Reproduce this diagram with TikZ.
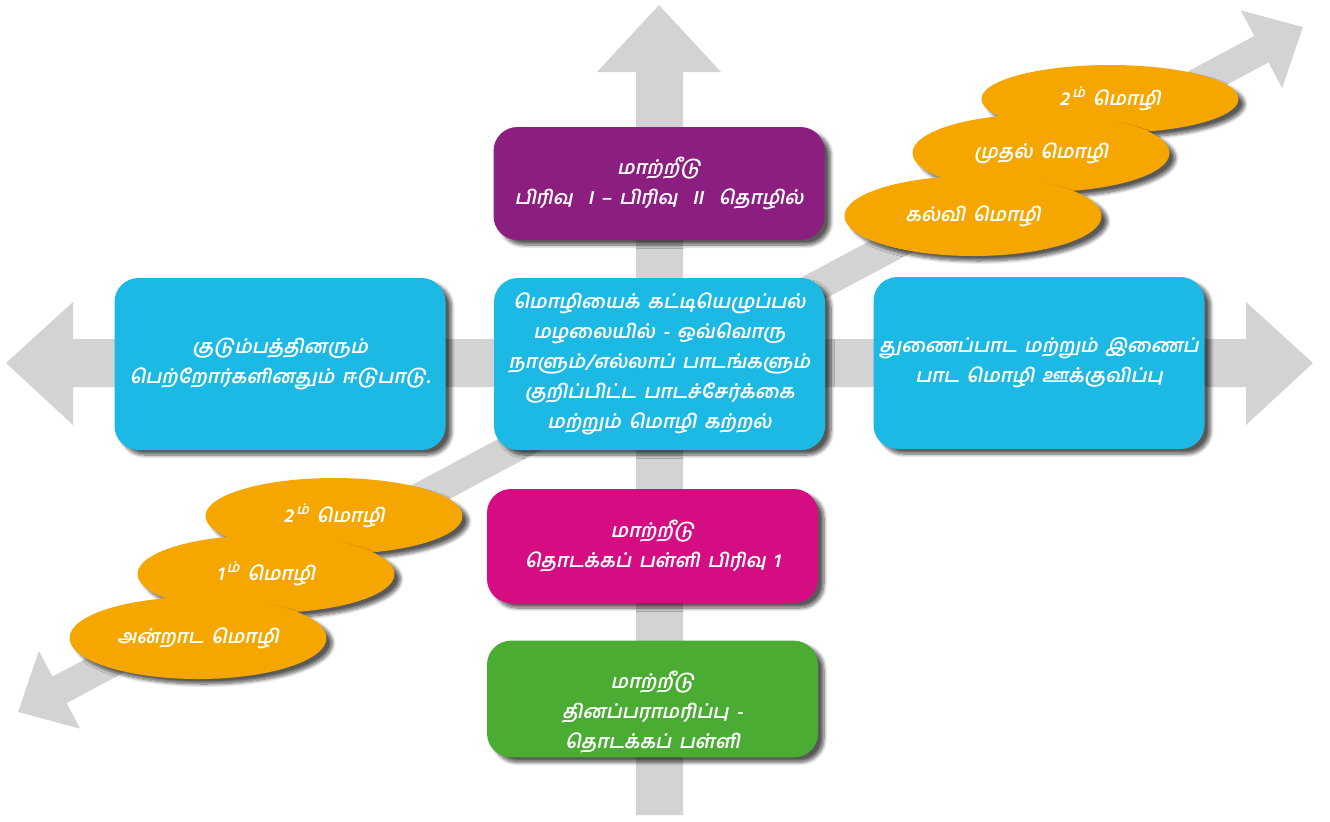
\documentclass[tikz,border=0pt]{standalone}
\usepackage{fontspec}
\newfontfamily\tamilfont[Script=Tamil,FakeSlant=0.2,BoldFeatures={FakeSlant=0.2},WordSpace=1.6]{Hind Madurai}
\usetikzlibrary{shapes.geometric,shadows.blur}

\definecolor{arrowgray}{RGB}{211,211,211}
\definecolor{boxpurple}{RGB}{140,30,128}
\definecolor{boxcyan}{RGB}{27,185,228}
\definecolor{boxmagenta}{RGB}{214,12,130}
\definecolor{boxgreen}{RGB}{75,172,52}
\definecolor{langorange}{RGB}{245,167,0}

\newcommand{\nummark}[1]{#1\,\raisebox{0.8ex}{\fontsize{7}{7}\selectfont ம்}}

\tikzset{
  softshadow/.style={blur shadow={shadow xshift=3pt,shadow yshift=-2.5pt,shadow blur steps=8,shadow opacity=65}},
  box/.style={rounded corners=12pt,minimum width=165.5pt,inner sep=2pt,align=center,text=white,
    font=\tamilfont\bfseries\fontsize{9.6}{15}\selectfont,softshadow},
  lang/.style={ellipse,fill=langorange,minimum width=128.5pt,minimum height=39pt,text=white,
    font=\tamilfont\bfseries\fontsize{9.6}{15}\selectfont,softshadow}
}

\begin{document}
\begin{tikzpicture}[x=0.5pt,y=-0.5pt]
\useasboundingbox (0,0) rectangle (1330,821);

%Arrows
\fill[arrowgray] (636,815)--(636,72)--(597,72)--(659,5)--(721,72)--(683,72)--(683,815)--cycle;
\fill[arrowgray] (6,363)--(73,302)--(73,339)--(1246,339)--(1246,302)--(1313,363)--(1246,425)--(1246,387)--(73,387)--(73,425)--cycle;
\begin{scope}[shift={(660.5,369.5)},rotate=28.06]
\fill[arrowgray] (-728,0)--(-681,44)--(-681,15)--(681,15)--(681,44)--(728,0)--(681,-44)--(681,-15)--(-681,-15)--(-681,-44)--cycle;
\end{scope}

%Boxes
\node[box,fill=boxpurple,minimum height=56.5pt] (repl-up) at (659,183.5)
  {மாற்றீடு\\பிரிவு\ \ I – பிரிவு\ \ II\ \ தொழில்};
\node[box,fill=boxcyan,minimum height=86pt] (core) at (659.5,364)
  {மொழியைக் கட்டியெழுப்பல்\\மழலையில் - ஒவ்வொரு\\நாளும்/எல்லாப் பாடங்களும்\\குறிப்பிட்ட பாடச்சேர்க்கை\\மற்றும் மொழி கற்றல்};
\node[box,fill=boxcyan,minimum height=86pt] (family) at (280,364)
  {குடும்பத்தினரும்\\பெற்றோர்களினதும் ஈடுபாடு.};
\node[box,fill=boxcyan,minimum height=86pt] (support) at (1039,363)
  {துணைப்பாட மற்றும் இணைப்\\பாட மொழி ஊக்குவிப்பு};
\node[box,fill=boxmagenta,minimum height=57pt] (primary) at (652.5,546)
  {மாற்றீடு\\தொடக்கப் பள்ளி பிரிவு 1};
\node[box,fill=boxgreen,minimum height=58pt] (daycare) at (652.5,699)
  {\rule{0pt}{22pt}மாற்றீடு\\தினப்பராமரிப்பு -\\தொடக்கப் பள்ளி};

%Languages
\node[lang,minimum height=34pt] (second-up) at (1110,99) {\nummark{2}\ மொழி};
\node[lang] (first-up) at (1041,153) {முதல் மொழி};
\node[lang,minimum height=40pt] (edu) at (973,216) {கல்வி மொழி};
\node[lang,minimum height=38pt] (second-low) at (334,516) {\nummark{2}\ மொழி};
\node[lang] (first-low) at (266,574) {\nummark{1}\ மொழி};
\node[lang,minimum height=41pt] (daily) at (198,638) {அன்றாட மொழி};

\end{tikzpicture}
\end{document}
